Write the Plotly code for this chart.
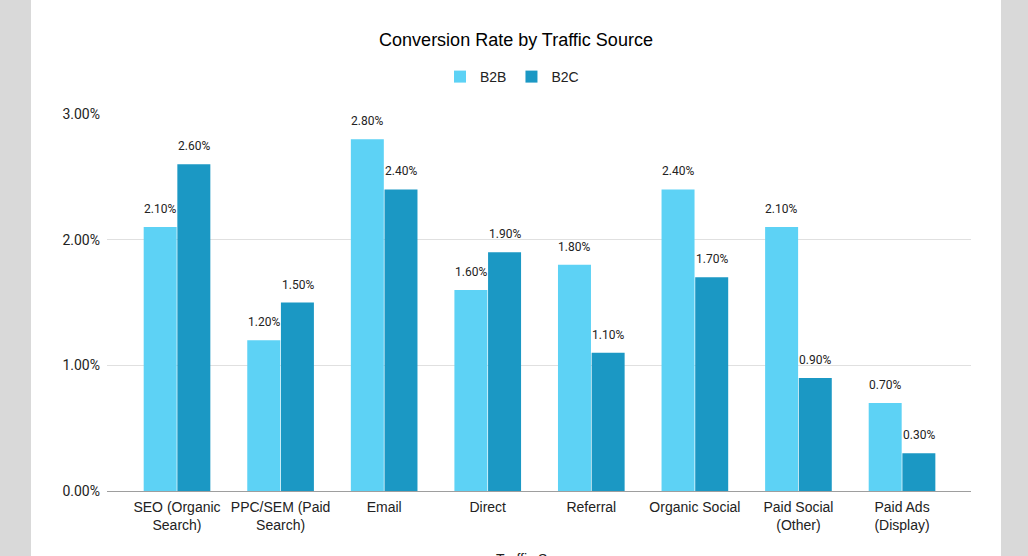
import plotly.graph_objects as go

categories = ["SEO (Organic<br>Search)", "PPC/SEM (Paid<br>Search)", "Email", "Direct",
              "Referral", "Organic Social", "Paid Social<br>(Other)", "Paid Ads<br>(Display)"]
b2b = [0.021, 0.012, 0.028, 0.016, 0.018, 0.024, 0.021, 0.007]
b2c = [0.026, 0.015, 0.024, 0.019, 0.011, 0.017, 0.009, 0.003]
series_names = ["B2B", "B2C"]
tick_vals = [0, 0.01, 0.02, 0.03]
tick_text = ["0.00%", "1.00%", "2.00%", "3.00%"]

colors = ["#5dd2f5", "#1b98c4"]

W, H = 1028, 556
L, R, T, B = 107, 971, 114, 491

fig = go.Figure()
for name, vals, col in zip(series_names, [b2b, b2c], colors):
    fig.add_trace(go.Bar(x=categories, y=vals, name=name, marker_color=col,
                         marker_line_width=0, hoverinfo="skip"))

annotations = []
for vals, xs in [(b2b, -17), (b2c, 17)]:
    for c, v in zip(categories, vals):
        annotations.append(dict(x=c, y=v, xref="x", yref="y", text=f"{v*100:.2f}%",
                                showarrow=False, xshift=xs, yshift=9, yanchor="bottom",
                                font=dict(family="Roboto", size=12, color="#222222")))

pw, ph = R - L, B - T
annotations.append(dict(x=0.5, y=(B - 549) / ph, xref="paper", yref="paper", text="Traffic Source",
                        showarrow=False, yanchor="top", xanchor="center",
                        font=dict(family="Liberation Sans", size=14, color="#222222")))

fig.update_layout(
    width=W, height=H,
    margin=dict(l=L, r=W - R, t=T, b=H - B),
    paper_bgcolor="#d9d9d9", plot_bgcolor="white",
    title=dict(text="Conversion Rate by Traffic Source", x=516 / W, xanchor="center",
               y=1 - 40 / H, yanchor="middle",
               font=dict(family="Liberation Sans", size=18, color="#000000")),
    legend=dict(orientation="h", x=(512 - L) / pw, xanchor="center", y=(B - 77) / ph, yanchor="middle",
                font=dict(family="Liberation Sans", size=14, color="#222222"),
                itemwidth=30, bgcolor="rgba(0,0,0,0)"),
    barmode="group", bargap=0.35, bargroupgap=0.02,
    xaxis=dict(range=[-0.676, 7.666], showgrid=False, showline=True, linecolor="#9e9e9e",
               linewidth=1, ticks="", tickfont=dict(family="Liberation Sans", size=14, color="#222222"),
               ticklabelstandoff=3, fixedrange=True),
    yaxis=dict(range=[0, 0.03], tickvals=tick_vals, ticktext=tick_text, showgrid=True,
               gridcolor="#e0e0e0", zeroline=False, showline=False, ticks="",
               tickfont=dict(family="Roboto", size=14, color="#222222"), ticklabelstandoff=6),
    annotations=annotations,
    shapes=[dict(type="rect", xref="paper", yref="paper", layer="below",
                 x0=(31 - L) / pw, x1=(1001 - L) / pw, y0=(B - H - 5) / ph, y1=(B + 5) / ph,
                 fillcolor="white", line_width=0)],
)

fig.write_html("out.html")
